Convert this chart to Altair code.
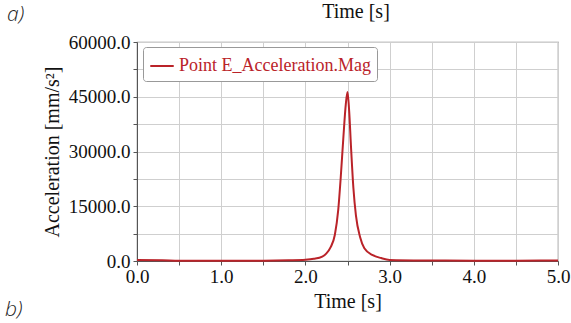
import altair as alt
import pandas as pd

times = [0.0, 0.3, 0.5, 1.0, 1.5, 1.8, 2.0, 2.1, 2.2, 2.25, 2.3, 2.35, 2.39, 2.42, 2.45,
         2.48, 2.5, 2.52, 2.54, 2.57, 2.6, 2.65, 2.7, 2.8, 2.9, 3.0, 3.5, 4.0, 4.5, 5.0]
accel = [250, 200, 100, 80, 100, 200, 350, 600, 1200, 2100, 3800, 7200, 14000, 23000, 33500,
         43000, 46300, 41000, 32000, 20000, 12500, 6500, 3500, 1600, 800, 300, 150, 100, 100, 150]
series_name = "Point E_Acceleration.Mag"
x_grid = [0.0, 0.5, 1.0, 1.5, 2.0, 2.5, 3.0, 3.5, 4.0, 4.5, 5.0]
y_grid = [0, 7500, 15000, 22500, 30000, 37500, 45000, 52500, 60000]
top_title = ["Time [s]"]

df = pd.DataFrame({"t": times, "a": accel, "series": [series_name] * len(times)})

serif = "Liberation Serif"

line = alt.Chart(df).mark_line(strokeWidth=2, interpolate="monotone").encode(
    x=alt.X("t:Q", scale=alt.Scale(domain=[0, 5], nice=False),
            axis=alt.Axis(title="Time [s]", values=x_grid,
                          labelExpr="datum.value % 1 == 0 ? format(datum.value, '.1f') : ''",
                          titlePadding=5, titleFontSize=20, labelFlush=False)),
    y=alt.Y("a:Q", scale=alt.Scale(domain=[0, 60000], nice=False),
            axis=alt.Axis(title="Acceleration [mm/s²]", values=y_grid,
                          labelExpr="datum.value % 15000 == 0 ? format(datum.value, '.1f') : ''",
                          titlePadding=6, titleFontSize=20, labelFlush=False)),
    color=alt.Color("series:N", scale=alt.Scale(domain=[series_name], range=["#ba2329"]),
                    legend=alt.Legend(title=None, orient="none", legendX=6, legendY=5,
                                      symbolType="stroke", symbolSize=550, symbolStrokeWidth=2,
                                      labelFont=serif, labelFontSize=18, labelColor="#ba2329",
                                      labelLimit=0,
                                      fillColor="white", strokeColor="#999999",
                                      cornerRadius=3, padding=6)),
)

title_top = alt.Chart(pd.DataFrame({"lab": top_title})).mark_text(
    font=serif, fontSize=20, color="#111111", align="center", baseline="middle"
).encode(text="lab:N", x=alt.value(219), y=alt.value(-30))

label_a = alt.Chart(pd.DataFrame({"lab": ["a)"]})).mark_text(
    font="Open Sans", fontStyle="italic", fontWeight=300, fontSize=21, color="#222222",
    align="left", baseline="middle"
).encode(text="lab:N", x=alt.value(-130), y=alt.value(-27))

label_b = alt.Chart(pd.DataFrame({"lab": ["b)"]})).mark_text(
    font="Open Sans", fontStyle="italic", fontWeight=300, fontSize=21, color="#222222",
    align="left", baseline="middle"
).encode(text="lab:N", x=alt.value(-132), y=alt.value(49 + 219))

chart = alt.layer(line, title_top, label_a, label_b).properties(
    width=421, height=219,
    autosize=alt.AutoSizeParams(type="none"),
    padding={"left": 137, "top": 42, "right": 13, "bottom": 62},
).configure_view(stroke="#8a8a8a", strokeWidth=1.2).configure_axis(
    labelFont=serif, labelFontSize=19, labelColor="#111111",
    titleFont=serif, titleFontSize=18, titleFontWeight="normal", titleColor="#111111",
    gridColor="#cfcfcf", gridWidth=1, domainColor="#555555", tickColor="#555555",
    tickSize=4
).configure_axisX(labelPadding=2).configure_axisY(labelPadding=3)

chart.save("out.html", embed_options={"renderer": "svg", "actions": False})
